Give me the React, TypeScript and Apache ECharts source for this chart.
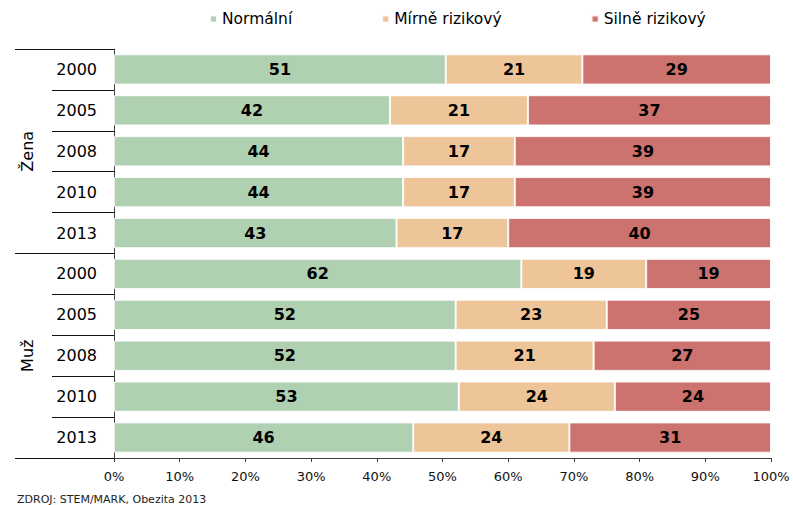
import React, { useEffect, useRef } from "react";
import * as echarts from "echarts";

const groups = ["Žena", "Muž"];
const years = ["2000", "2005", "2008", "2010", "2013"];
const seriesNames = ["Normální", "Mírně rizikový", "Silně rizikový"];
const normalni = [51, 42, 44, 44, 43, 62, 52, 52, 53, 46];
const mirne = [21, 21, 17, 17, 17, 19, 23, 21, 24, 24];
const silne = [29, 37, 39, 39, 40, 19, 25, 27, 24, 31];
const xTicks = [0, 10, 20, 30, 40, 50, 60, 70, 80, 90, 100];
const colors = ["#AFD1B2", "#EDC599", "#CD736F"];
const source = "ZDROJ: STEM/MARK, Obezita 2013";

const FONT = "DejaVu Sans";

export default function App() {
  const ref = useRef<HTMLDivElement>(null);
  useEffect(() => {
    if (!ref.current) return;
    const chart = echarts.init(ref.current, null, { renderer: "svg" });
    const categories: string[] = [];
    groups.forEach((g) => years.forEach((y) => categories.push(g + "|" + y)));
    const raw = [normalni, mirne, silne];
    const totals = normalni.map((v, i) => v + mirne[i] + silne[i]);
    const series = raw.map((arr, si) => ({
      name: seriesNames[si],
      type: "bar",
      stack: "total",
      yAxisIndex: 0,
      barCategoryGap: "26%",
      data: arr.map((v, i) => (v / totals[i]) * 100),
      itemStyle: {
        color: colors[si],
        borderColor: "rgba(255,255,255,0.85)",
        borderWidth: 1,
      },
      label: {
        show: true,
        position: "inside",
        formatter: (p: any) => String(arr[p.dataIndex]),
        fontFamily: FONT,
        fontWeight: "bold",
        fontSize: 16,
        color: "#000",
      },
    }));
    chart.setOption({
      animation: false,
      textStyle: { fontFamily: FONT },
      title: {
        text: source,
        left: 17,
        top: 494,
        padding: 0,
        textStyle: { fontFamily: FONT, fontSize: 11, fontWeight: "normal", color: "#222" },
      },
      legend: {
        data: seriesNames,
        left: 209,
        top: 11,
        padding: 0,
        itemWidth: 7,
        itemHeight: 7,
        itemGap: 89,
        icon: "rect",
        textStyle: { fontFamily: FONT, fontSize: 15.5, color: "#000" },
      },
      grid: { left: 114, right: 22, top: 49, bottom: 47, containLabel: false },
      xAxis: {
        type: "value",
        min: xTicks[0],
        max: xTicks[xTicks.length - 1],
        interval: xTicks[1] - xTicks[0],
        splitLine: { show: false },
        axisLine: { show: true, lineStyle: { color: "#404040", width: 1 } },
        axisTick: { show: true, length: 4, lineStyle: { color: "#404040" } },
        axisLabel: {
          formatter: "{value}%",
          fontFamily: FONT,
          fontSize: 13,
          color: "#111",
          margin: 12,
        },
      },
      yAxis: [
        {
          type: "category",
          data: categories,
          inverse: true,
          axisLine: { show: true, lineStyle: { color: "#404040", width: 1 } },
          axisTick: { show: true, length: 62, lineStyle: { color: "#111" } },
          axisLabel: {
            formatter: (v: string) => v.split("|")[1],
            fontFamily: FONT,
            fontSize: 16,
            color: "#000",
            margin: 17,
          },
        },
        {
          type: "category",
          data: groups,
          inverse: true,
          position: "left",
          axisLine: { show: false },
          axisTick: { show: true, length: 99, lineStyle: { color: "#111" } },
          axisLabel: {
            rotate: 90,
            fontFamily: FONT,
            fontSize: 16,
            color: "#000",
            margin: 79,
          },
        },
      ],
      series,
    });
    return () => chart.dispose();
  }, []);
  return (
    <div
      ref={ref}
      style={{ position: "fixed", left: 0, top: 0, width: 793, height: 505, background: "#fff" }}
    />
  );
}
